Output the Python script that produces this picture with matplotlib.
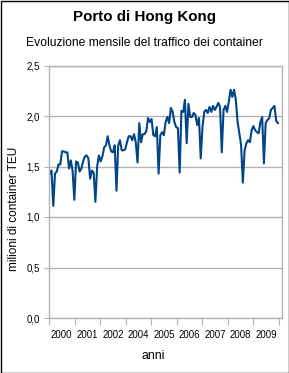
import matplotlib
matplotlib.use("Agg")

import numpy as np
import matplotlib.pyplot as plt
from matplotlib.patches import Rectangle
from matplotlib.ticker import FixedLocator, FuncFormatter, NullFormatter

# traffico mensile (milioni di TEU)
teu = [1.43, 1.46, 1.11, 1.43, 1.45, 1.52, 1.52, 1.65, 1.65, 1.64, 1.64, 1.48,
       1.56, 1.46, 1.17, 1.55, 1.54, 1.45, 1.48, 1.55, 1.60, 1.61, 1.58, 1.38,
       1.46, 1.44, 1.15, 1.50, 1.61, 1.55, 1.60, 1.69, 1.71, 1.80, 1.71, 1.65,
       1.64, 1.71, 1.26, 1.71, 1.76, 1.66, 1.66, 1.67, 1.74, 1.80, 1.80, 1.76,
       1.82, 1.74, 1.54, 1.93, 1.74, 1.82, 1.82, 1.85, 1.98, 1.94, 1.97, 1.81,
       1.80, 1.89, 1.43, 1.81, 1.84, 1.81, 1.94, 1.99, 1.93, 2.08, 2.04, 1.94,
       1.89, 1.88, 1.44, 2.05, 2.04, 2.16, 1.73, 2.12, 1.99, 1.99, 2.03, 2.01,
       1.91, 1.98, 1.58, 1.89, 2.04, 2.06, 2.03, 2.09, 2.04, 2.10, 2.06, 2.09,
       2.13, 2.09, 1.64, 2.06, 2.10, 2.04, 2.14, 2.26, 2.19, 2.26, 2.16, 1.94,
       1.83, 1.71, 1.34, 1.66, 1.73, 1.76, 1.74, 1.86, 1.90, 1.86, 1.84, 1.83,
       1.94, 1.99, 1.53, 1.93, 1.96, 1.98, 2.06, 2.08, 2.10, 1.95, 1.93]
anni = ["2000", "2001", "2002", "2004", "2005", "2006", "2007", "2008", "2009"]
y_ticks = [0.0, 0.5, 1.0, 1.5, 2.0, 2.5]

W, H = 289, 373
fig = plt.figure(figsize=(W / 100, H / 100), dpi=100)
fig.patch.set_facecolor("white")
plt.rcParams['font.family'] = ['Liberation Sans', 'DejaVu Sans']

# area del grafico (in pixel)
left, right, top, bottom = 49, 282, 65.5, 318
ax = fig.add_axes([left / W, 1 - bottom / H, (right - left) / W, (bottom - top) / H])

mesi = np.arange(len(teu))
ax.plot(mesi, teu, color="#004586", linewidth=1.5, solid_joinstyle="round")

ax.set_xlim(-0.43, 132.3)
ax.set_ylim(0, 2.5)

grid_c = "#b3b3b3"
for s in ax.spines.values():
    s.set_color(grid_c)
    s.set_linewidth(1.0)

ax.set_yticks(y_ticks)
ax.yaxis.set_major_formatter(FuncFormatter(lambda v, p: ("%.1f" % v).replace(".", ",")))
ax.grid(axis="y", color=grid_c, linewidth=1.0)
ax.tick_params(axis="y", length=3.6, color=grid_c, labelsize=7, pad=3)

# asse categorie: tacche ai bordi, etichette in mezzo
edges = np.linspace(-0.43, 130.5, len(anni) + 1)
ax.xaxis.set_major_locator(FixedLocator(edges))
ax.xaxis.set_major_formatter(NullFormatter())
ax.xaxis.set_minor_locator(FixedLocator((edges[:-1] + edges[1:]) / 2))
ax.set_xticklabels(anni, minor=True)
ax.tick_params(axis="x", which="major", length=5, color=grid_c)
ax.tick_params(axis="x", which="minor", length=0, labelsize=6.9, pad=9)

fig.text(0.5, 1 - 17 / H, "Porto di Hong Kong", ha="center", va="center",
         fontsize=10.9, fontweight="bold")
fig.text(0.5, 1 - 43 / H, "Evoluzione mensile del traffico dei container",
         ha="center", va="center", fontsize=8.7)
fig.text(153 / W, 1 - 356 / H, "anni", ha="center", va="center", fontsize=8.8)
fig.text(14 / W, 1 - 209 / H, "milioni di container TEU", ha="center",
         va="center", rotation=90, fontsize=8.5)

fig.patches.append(Rectangle((0.5 / W, 0.5 / H), 1 - 1 / W, 1 - 1 / H,
                             transform=fig.transFigure, fill=False,
                             edgecolor="black", linewidth=1.0))

fig.savefig("out.png", dpi=100)
